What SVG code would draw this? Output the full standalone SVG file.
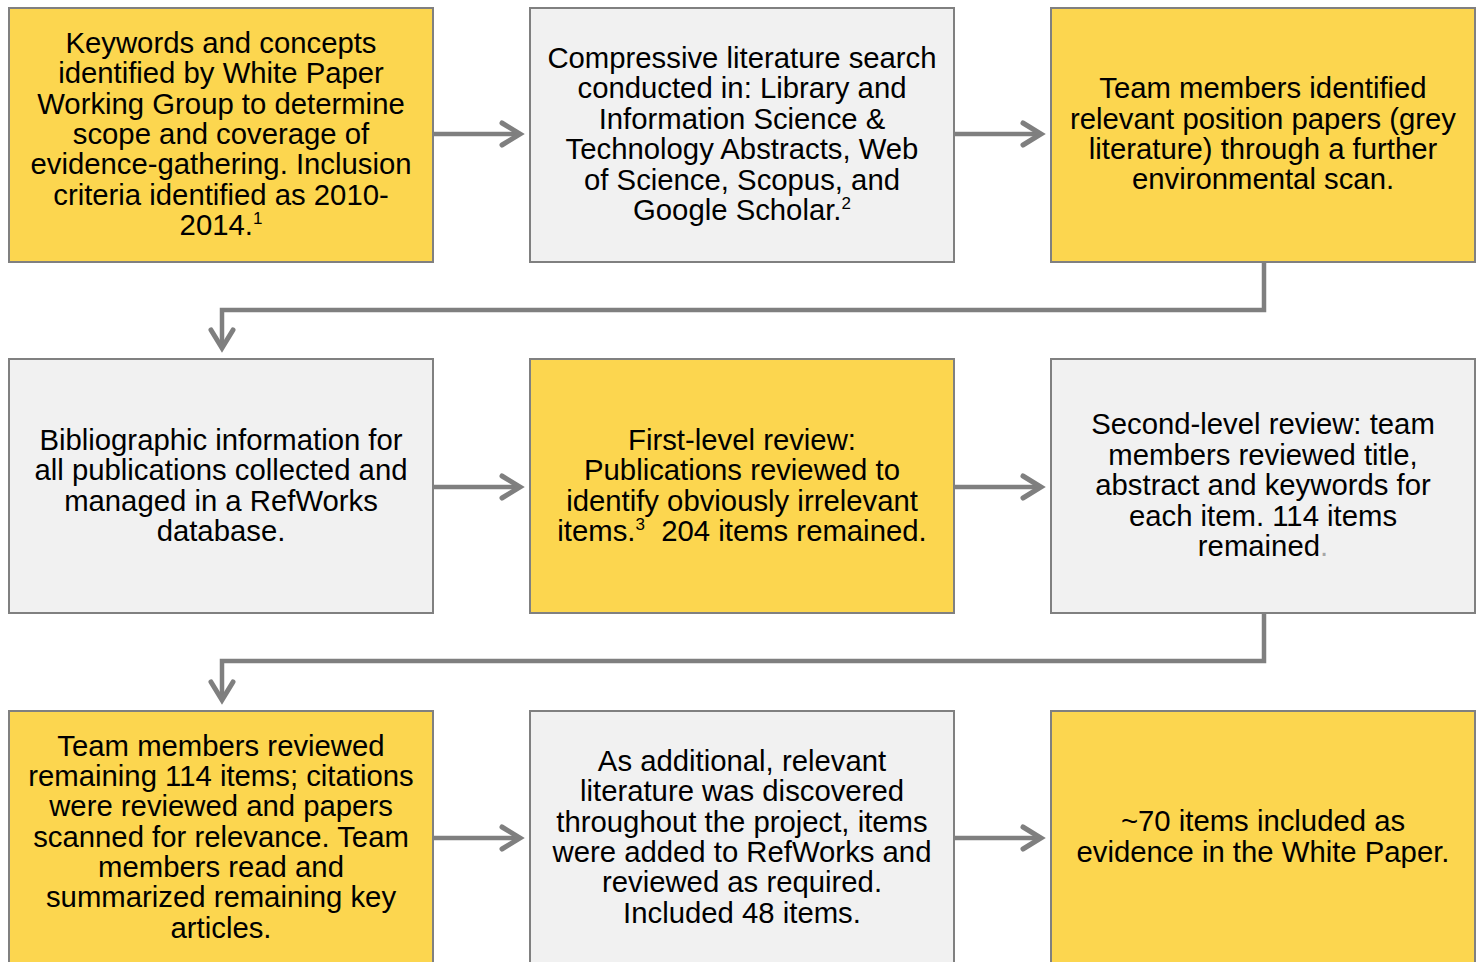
<svg xmlns="http://www.w3.org/2000/svg" width="1481" height="962" viewBox="0 0 1481 962">
<style>
.y{fill:#FCD64F;stroke:#808080;stroke-width:2}
.g{fill:#F1F1F1;stroke:#808080;stroke-width:2}
text{font-family:"Liberation Sans",Arial,sans-serif;font-size:29.3px;fill:#000;text-anchor:middle}
.c{fill:none;stroke:#7F7F7F;stroke-width:4.5}
.sup{font-size:17px}
</style>
<defs>
<marker id="ah" markerUnits="userSpaceOnUse" markerWidth="30" markerHeight="30" viewBox="-24 -15 30 30" refX="0" refY="0" orient="auto" overflow="visible">
<path d="M-18,-11 L0,0 L-18,11" fill="none" stroke="#7F7F7F" stroke-width="5" stroke-linejoin="miter" stroke-linecap="round"/>
</marker>
</defs>
<rect width="1481" height="962" fill="#fff"/>
<g id="connectors">
<path class="c" d="M434,134 H520" marker-end="url(#ah)"/>
<path class="c" d="M955,134 H1041" marker-end="url(#ah)"/>
<path class="c" d="M1264,262 V310 H222 V348" marker-end="url(#ah)"/>
<path class="c" d="M434,487 H520" marker-end="url(#ah)"/>
<path class="c" d="M955,487 H1041" marker-end="url(#ah)"/>
<path class="c" d="M1264,613 V661 H222 V700" marker-end="url(#ah)"/>
<path class="c" d="M434,838 H520" marker-end="url(#ah)"/>
<path class="c" d="M955,838 H1041" marker-end="url(#ah)"/>
</g>
<g id="n1">
<rect class="y" x="9" y="8" width="424" height="254"/>
<text x="221" y="53">Keywords and concepts</text>
<text x="221" y="83">identified by White Paper</text>
<text x="221" y="114">Working Group to determine</text>
<text x="221" y="144">scope and coverage of</text>
<text x="221" y="174">evidence-gathering. Inclusion</text>
<text x="221" y="205">criteria identified as 2010-</text>
<text x="221" y="235">2014.<tspan class="sup" dy="-11">1</tspan></text>
</g>
<g id="n2">
<rect class="g" x="530" y="8" width="424" height="254"/>
<text x="742" y="68">Compressive literature search</text>
<text x="742" y="98">conducted in: Library and</text>
<text x="742" y="129">Information Science &amp;</text>
<text x="742" y="159">Technology Abstracts, Web</text>
<text x="742" y="190">of Science, Scopus, and</text>
<text x="742" y="220">Google Scholar.<tspan class="sup" dy="-11">2</tspan></text>
</g>
<g id="n3">
<rect class="y" x="1051" y="8" width="424" height="254"/>
<text x="1263" y="98">Team members identified</text>
<text x="1263" y="129">relevant position papers (grey</text>
<text x="1263" y="159">literature) through a further</text>
<text x="1263" y="189">environmental scan.</text>
</g>
<g id="n4">
<rect class="g" x="9" y="359" width="424" height="254"/>
<text x="221" y="450">Bibliographic information for</text>
<text x="221" y="480">all publications collected and</text>
<text x="221" y="511">managed in a RefWorks</text>
<text x="221" y="541">database.</text>
</g>
<g id="n5">
<rect class="y" x="530" y="359" width="424" height="254"/>
<text x="742" y="450">First-level review:</text>
<text x="742" y="480">Publications reviewed to</text>
<text x="742" y="511">identify obviously irrelevant</text>
<text x="742" y="541" xml:space="preserve">items.<tspan class="sup" dy="-11">3</tspan><tspan dy="11">  204 items remained.</tspan></text>
</g>
<g id="n6">
<rect class="g" x="1051" y="359" width="424" height="254"/>
<text x="1263" y="434">Second-level review: team</text>
<text x="1263" y="465">members reviewed title,</text>
<text x="1263" y="495">abstract and keywords for</text>
<text x="1263" y="526">each item. 114 items</text>
<text x="1263" y="556">remained<tspan fill="#A6A6A6">.</tspan></text>
</g>
<g id="n7">
<rect class="y" x="9" y="711" width="424" height="270"/>
<text x="221" y="756">Team members reviewed</text>
<text x="221" y="786">remaining 114 items; citations</text>
<text x="221" y="816">were reviewed and papers</text>
<text x="221" y="847">scanned for relevance. Team</text>
<text x="221" y="877">members read and</text>
<text x="221" y="907">summarized remaining key</text>
<text x="221" y="938">articles.</text>
</g>
<g id="n8">
<rect class="g" x="530" y="711" width="424" height="270"/>
<text x="742" y="771">As additional, relevant</text>
<text x="742" y="801">literature was discovered</text>
<text x="742" y="832">throughout the project, items</text>
<text x="742" y="862">were added to RefWorks and</text>
<text x="742" y="892">reviewed as required.</text>
<text x="742" y="923">Included 48 items.</text>
</g>
<g id="n9">
<rect class="y" x="1051" y="711" width="424" height="270"/>
<text x="1263" y="831">~70 items included as</text>
<text x="1263" y="862">evidence in the White Paper.</text>
</g>
</svg>
